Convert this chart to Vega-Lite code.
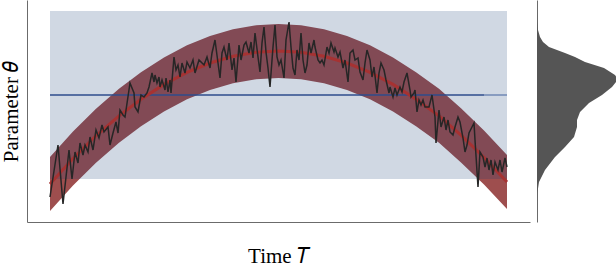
{
  "$schema": "https://vega.github.io/schema/vega-lite/v6.json",
  "padding": 0,
  "autosize": {"type": "pad"},
  "spacing": 7,
  "config": {
    "view": {"stroke": null},
    "axis": {"grid": false, "ticks": false, "labels": false, "domainColor": "#6b6b6b", "domainWidth": 1, "titleFont": "Liberation Serif", "titleFontSize": 21, "titleFontWeight": "normal", "titleColor": "#000000"}
  },
  "datasets": {
    "band": [
      {"t": 0, "lo": 11, "mid": 38, "hi": 65},
      {"t": 23, "lo": 36.4, "mid": 63.4, "hi": 90.4},
      {"t": 46, "lo": 59.2, "mid": 86.2, "hi": 113.2},
      {"t": 69, "lo": 79.2, "mid": 106.2, "hi": 133.2},
      {"t": 91, "lo": 95.8, "mid": 122.8, "hi": 149.8},
      {"t": 114, "lo": 110.6, "mid": 137.6, "hi": 164.6},
      {"t": 137, "lo": 122.7, "mid": 149.7, "hi": 176.7},
      {"t": 160, "lo": 132, "mid": 159, "hi": 186},
      {"t": 183, "lo": 138.7, "mid": 165.7, "hi": 192.7},
      {"t": 206, "lo": 142.7, "mid": 169.7, "hi": 196.7},
      {"t": 228.5, "lo": 144, "mid": 171, "hi": 198},
      {"t": 251, "lo": 142.7, "mid": 169.7, "hi": 196.7},
      {"t": 274, "lo": 138.7, "mid": 165.7, "hi": 192.7},
      {"t": 297, "lo": 132, "mid": 159, "hi": 186},
      {"t": 320, "lo": 122.7, "mid": 149.7, "hi": 176.7},
      {"t": 343, "lo": 110.6, "mid": 137.6, "hi": 164.6},
      {"t": 366, "lo": 95.8, "mid": 122.8, "hi": 149.8},
      {"t": 389, "lo": 79.2, "mid": 106.2, "hi": 133.2},
      {"t": 411, "lo": 59.5, "mid": 86.8, "hi": 113.8},
      {"t": 434, "lo": 37.5, "mid": 64.5, "hi": 91.5},
      {"t": 457, "lo": 13, "mid": 40, "hi": 67}
    ],
    "span": [{"t0": 0, "tm": 434, "t1": 457, "lo": 43, "hi": 211, "mean": 127}],
    "obs": [
      {"t": 0, "v": 25}, {"t": 8, "v": 77}, {"t": 13, "v": 18}, {"t": 19, "v": 72}, {"t": 22, "v": 43},
      {"t": 25, "v": 70}, {"t": 28, "v": 59}, {"t": 30, "v": 79}, {"t": 33, "v": 67}, {"t": 35, "v": 77},
      {"t": 38, "v": 70}, {"t": 40, "v": 85}, {"t": 43, "v": 72}, {"t": 46, "v": 92}, {"t": 49, "v": 84},
      {"t": 52, "v": 97}, {"t": 54, "v": 90}, {"t": 58, "v": 95}, {"t": 60, "v": 77}, {"t": 63, "v": 89},
      {"t": 66, "v": 100}, {"t": 68, "v": 89}, {"t": 70, "v": 112}, {"t": 73, "v": 107}, {"t": 75, "v": 105},
      {"t": 80, "v": 139}, {"t": 84, "v": 129}, {"t": 85, "v": 115}, {"t": 88, "v": 110}, {"t": 91, "v": 127},
      {"t": 94, "v": 125}, {"t": 97, "v": 129}, {"t": 99, "v": 135}, {"t": 102, "v": 149}, {"t": 104, "v": 140},
      {"t": 105, "v": 147}, {"t": 107, "v": 139}, {"t": 109, "v": 145}, {"t": 110, "v": 135}, {"t": 112, "v": 142},
      {"t": 115, "v": 132}, {"t": 116, "v": 144}, {"t": 118, "v": 130}, {"t": 120, "v": 142}, {"t": 121, "v": 129},
      {"t": 124, "v": 165}, {"t": 126, "v": 152}, {"t": 128, "v": 157}, {"t": 130, "v": 145}, {"t": 132, "v": 159},
      {"t": 135, "v": 149}, {"t": 137, "v": 160}, {"t": 140, "v": 154}, {"t": 143, "v": 162}, {"t": 145, "v": 149},
      {"t": 149, "v": 162}, {"t": 154, "v": 157}, {"t": 157, "v": 165}, {"t": 160, "v": 154}, {"t": 162, "v": 169},
      {"t": 165, "v": 182}, {"t": 168, "v": 159}, {"t": 170, "v": 144}, {"t": 172, "v": 169}, {"t": 174, "v": 175},
      {"t": 177, "v": 162}, {"t": 179, "v": 179}, {"t": 182, "v": 152}, {"t": 184, "v": 164}, {"t": 186, "v": 140},
      {"t": 189, "v": 177}, {"t": 191, "v": 162}, {"t": 194, "v": 177}, {"t": 196, "v": 180}, {"t": 199, "v": 169},
      {"t": 201, "v": 180}, {"t": 203, "v": 164}, {"t": 205, "v": 189}, {"t": 208, "v": 165}, {"t": 210, "v": 150},
      {"t": 212, "v": 179}, {"t": 214, "v": 195}, {"t": 216, "v": 170}, {"t": 218, "v": 154}, {"t": 220, "v": 135},
      {"t": 223, "v": 175}, {"t": 225, "v": 197}, {"t": 227, "v": 165}, {"t": 229, "v": 157}, {"t": 231, "v": 162},
      {"t": 234, "v": 144}, {"t": 236, "v": 182}, {"t": 239, "v": 200}, {"t": 241, "v": 175}, {"t": 243, "v": 154},
      {"t": 245, "v": 147}, {"t": 247, "v": 172}, {"t": 249, "v": 162}, {"t": 251, "v": 189}, {"t": 253, "v": 162},
      {"t": 255, "v": 149}, {"t": 257, "v": 157}, {"t": 259, "v": 179}, {"t": 261, "v": 169}, {"t": 264, "v": 182},
      {"t": 265, "v": 175}, {"t": 268, "v": 162}, {"t": 270, "v": 159}, {"t": 272, "v": 162}, {"t": 274, "v": 157},
      {"t": 277, "v": 175}, {"t": 279, "v": 169}, {"t": 281, "v": 179}, {"t": 284, "v": 170}, {"t": 285, "v": 174},
      {"t": 288, "v": 165}, {"t": 290, "v": 170}, {"t": 293, "v": 154}, {"t": 295, "v": 162}, {"t": 298, "v": 140},
      {"t": 300, "v": 169}, {"t": 303, "v": 172}, {"t": 305, "v": 162}, {"t": 308, "v": 164}, {"t": 310, "v": 150},
      {"t": 313, "v": 142}, {"t": 315, "v": 159}, {"t": 317, "v": 172}, {"t": 320, "v": 162}, {"t": 322, "v": 145},
      {"t": 324, "v": 155}, {"t": 327, "v": 129}, {"t": 329, "v": 149}, {"t": 331, "v": 159}, {"t": 334, "v": 152},
      {"t": 336, "v": 142}, {"t": 339, "v": 129}, {"t": 340, "v": 135}, {"t": 343, "v": 125}, {"t": 345, "v": 134},
      {"t": 347, "v": 127}, {"t": 350, "v": 135}, {"t": 352, "v": 130}, {"t": 354, "v": 140}, {"t": 357, "v": 149},
      {"t": 360, "v": 132}, {"t": 361, "v": 125}, {"t": 364, "v": 129}, {"t": 365, "v": 132}, {"t": 367, "v": 110},
      {"t": 369, "v": 122}, {"t": 371, "v": 117}, {"t": 373, "v": 122}, {"t": 375, "v": 115}, {"t": 379, "v": 115},
      {"t": 382, "v": 127}, {"t": 385, "v": 105}, {"t": 386, "v": 79}, {"t": 389, "v": 112}, {"t": 391, "v": 95},
      {"t": 394, "v": 105}, {"t": 396, "v": 92}, {"t": 398, "v": 102}, {"t": 400, "v": 90}, {"t": 403, "v": 87},
      {"t": 405, "v": 95}, {"t": 408, "v": 105}, {"t": 410, "v": 100}, {"t": 413, "v": 84}, {"t": 415, "v": 70},
      {"t": 417, "v": 77}, {"t": 419, "v": 89}, {"t": 422, "v": 95}, {"t": 424, "v": 99}, {"t": 425, "v": 82},
      {"t": 428, "v": 35}, {"t": 430, "v": 70}, {"t": 433, "v": 65}, {"t": 435, "v": 55}, {"t": 437, "v": 64},
      {"t": 439, "v": 52}, {"t": 441, "v": 62}, {"t": 443, "v": 47}, {"t": 445, "v": 60}, {"t": 448, "v": 52},
      {"t": 450, "v": 62}, {"t": 452, "v": 50}, {"t": 455, "v": 64}, {"t": 457, "v": 55}
    ],
    "dens": [
      {"theta": 0, "d": 0}, {"theta": 9, "d": 0}, {"theta": 29, "d": 0.3}, {"theta": 40, "d": 2}, {"theta": 52, "d": 8},
      {"theta": 65, "d": 18}, {"theta": 75, "d": 28}, {"theta": 85, "d": 37}, {"theta": 95, "d": 40},
      {"theta": 102, "d": 40}, {"theta": 110, "d": 43}, {"theta": 119, "d": 52}, {"theta": 127, "d": 65},
      {"theta": 135, "d": 75}, {"theta": 140, "d": 79}, {"theta": 144, "d": 80}, {"theta": 147, "d": 78},
      {"theta": 154, "d": 67}, {"theta": 160, "d": 48}, {"theta": 165, "d": 38}, {"theta": 169, "d": 28},
      {"theta": 175, "d": 12}, {"theta": 180, "d": 6}, {"theta": 185, "d": 3}, {"theta": 192, "d": 1},
      {"theta": 200, "d": 0.3}, {"theta": 212, "d": 0}, {"theta": 222, "d": 0}
    ]
  },
  "hconcat": [
    {
      "width": 503,
      "height": 222,
      "layer": [
        {
          "data": {"name": "band"},
          "mark": {"type": "area", "color": "#9e4e4e"},
          "encoding": {
            "x": {"field": "t", "type": "quantitative", "title": "Time 𝑇", "scale": {"domain": [-23, 480], "nice": false, "zero": false}, "axis": {"titlePadding": 23}},
            "y": {"field": "lo", "type": "quantitative", "title": "Parameter 𝜃", "scale": {"domain": [0, 222], "nice": false, "zero": false}, "axis": {"titlePadding": 6}},
            "y2": {"field": "hi"}
          }
        },
        {
          "data": {"name": "span"},
          "mark": {"type": "rect", "color": "#143c73", "opacity": 0.2},
          "encoding": {
            "x": {"field": "t0", "type": "quantitative", "title": "Time 𝑇"},
            "x2": {"field": "t1"},
            "y": {"field": "lo", "type": "quantitative", "title": "Parameter 𝜃"},
            "y2": {"field": "hi"}
          }
        },
        {
          "data": {"name": "span"},
          "mark": {"type": "rule", "color": "#2e4c8c", "strokeWidth": 1.5},
          "encoding": {
            "x": {"field": "t0", "type": "quantitative", "title": "Time 𝑇"},
            "x2": {"field": "tm"},
            "y": {"field": "mean", "type": "quantitative", "title": "Parameter 𝜃"}
          }
        },
        {
          "data": {"name": "span"},
          "mark": {"type": "rule", "color": "#7088b4", "strokeWidth": 1.5},
          "encoding": {
            "x": {"field": "tm", "type": "quantitative", "title": "Time 𝑇"},
            "x2": {"field": "t1"},
            "y": {"field": "mean", "type": "quantitative", "title": "Parameter 𝜃"}
          }
        },
        {
          "data": {"name": "band"},
          "mark": {"type": "line", "color": "#a63232", "strokeWidth": 3},
          "encoding": {
            "x": {"field": "t", "type": "quantitative", "title": "Time 𝑇"},
            "y": {"field": "mid", "type": "quantitative", "title": "Parameter 𝜃"}
          }
        },
        {
          "data": {"name": "obs"},
          "mark": {"type": "line", "color": "#262626", "strokeWidth": 1.5},
          "encoding": {
            "x": {"field": "t", "type": "quantitative", "title": "Time 𝑇"},
            "y": {"field": "v", "type": "quantitative", "title": "Parameter 𝜃"}
          }
        }
      ]
    },
    {
      "width": 80,
      "height": 222,
      "data": {"name": "dens"},
      "mark": {"type": "area", "orient": "horizontal", "color": "#555555"},
      "encoding": {
        "y": {"field": "theta", "type": "quantitative", "scale": {"domain": [0, 222], "nice": false, "zero": false}, "axis": {"title": null}},
        "x": {"field": "d", "type": "quantitative", "scale": {"domain": [0, 80], "nice": false}, "axis": null}
      }
    }
  ]
}
